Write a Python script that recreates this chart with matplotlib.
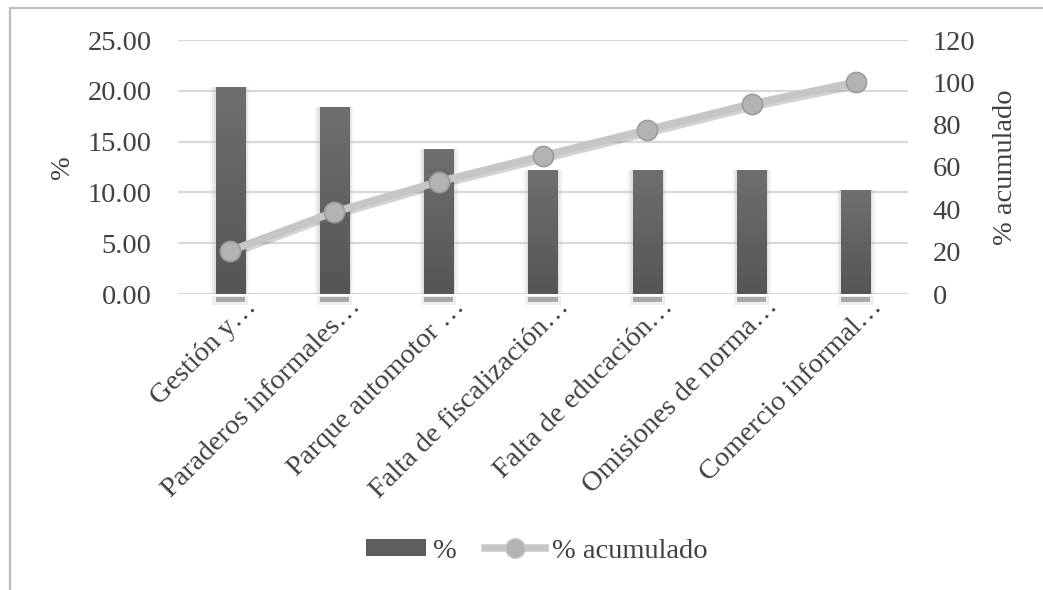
import numpy as np
import matplotlib
matplotlib.use("Agg")
import matplotlib.pyplot as plt
from matplotlib.lines import Line2D
from matplotlib.patches import Patch
from matplotlib.transforms import ScaledTranslation
import matplotlib.patheffects as pe

categories = [
    "Gestión y…",
    "Paraderos informales…",
    "Parque automotor …",
    "Falta de fiscalización…",
    "Falta de educación…",
    "Omisiones de norma…",
    "Comercio informal…",
]
pct = [20.41, 18.37, 14.29, 12.24, 12.24, 12.24, 10.20]
pct_acum = [20.41, 38.78, 53.06, 65.31, 77.55, 89.80, 100.00]
left_ticks = [0, 5, 10, 15, 20, 25]
right_ticks = [0, 20, 40, 60, 80, 100, 120]

TEXT = "#404040"
FONT = "Liberation Serif"
FS = 20.5
FS_X = 20.5
plt.rcParams["font.family"] = [FONT, "DejaVu Serif"]

W, H = 1043, 590
fig = plt.figure(figsize=(W / 100, H / 100), dpi=100)
fig.patch.set_facecolor("white")

ax = fig.add_axes([178 / W, 1 - 294 / H, 730 / W, 254 / H])
x = np.arange(len(categories))
bar_w = 0.28

# soft halo around each bar
for grow, a in [(0.10, 0.10), (0.065, 0.15), (0.035, 0.25)]:
    ax.bar(x, pct, width=bar_w + grow, bottom=0, color="#b8b8b8",
           alpha=a, zorder=2, linewidth=0)

bars = ax.bar(x, pct, width=bar_w, color="#606060", zorder=3, linewidth=0)

# vertical gradient fill for the bars
grad = np.linspace(0, 1, 256).reshape(-1, 1)
cmap = matplotlib.colors.LinearSegmentedColormap.from_list(
    "bargrad", ["#555555", "#6f6f6f"])
for b in bars:
    x0, y0 = b.get_x(), b.get_y()
    im = ax.imshow(grad, extent=[x0, x0 + b.get_width(), y0, y0 + b.get_height()],
                   origin="lower", cmap=cmap, aspect="auto", zorder=4)
    im.set_clip_path(b)

# faint reflection just under the baseline
for xi in x:
    ax.bar(xi, -0.9, width=bar_w + 0.06, bottom=-0.15, color="#d0d0d0", alpha=0.35,
           linewidth=0, clip_on=False, zorder=1)
    ax.bar(xi, -0.55, width=bar_w, bottom=-0.25, color="#8c8c8c", alpha=0.7,
           linewidth=0, clip_on=False, zorder=1)

ax.set_xlim(-0.5, len(categories) - 0.5)
ax.set_ylim(0, 25)
ax.set_yticks(left_ticks)
ax.set_yticklabels([f"{v:.2f}" for v in left_ticks])
ax.yaxis.grid(True, color="#d9d9d9", linewidth=1.6, zorder=0)
ax.set_axisbelow(True)
for s in ax.spines.values():
    s.set_visible(False)
ax.tick_params(axis="both", length=0, labelcolor=TEXT)
ax.tick_params(axis="y", pad=19, labelsize=FS)
ax.tick_params(axis="x", pad=6.5, labelsize=FS_X)

ax.set_xticks(x)
ax.set_xticklabels(categories, rotation=45, ha="right", va="center",
                   rotation_mode="anchor")
shift = ScaledTranslation(22.5 / 100, 0, fig.dpi_scale_trans)
for lab in ax.get_xticklabels():
    lab.set_transform(lab.get_transform() + shift)

ax.set_ylabel("%", fontsize=FS, color=TEXT)
ax.yaxis.set_label_coords(75 / W, 1 - 167 / H, transform=fig.transFigure)

ax2 = ax.twinx()
ax2.set_ylim(0, 120)
ax2.set_yticks(right_ticks)
ax2.set_yticklabels([str(v) for v in right_ticks])
for s in ax2.spines.values():
    s.set_visible(False)
ax2.tick_params(axis="y", length=0, labelsize=FS, labelcolor=TEXT, pad=18)
ax2.set_ylabel("% acumulado", fontsize=FS, color=TEXT, rotation=90)
ax2.yaxis.set_label_coords(993 / W, 1 - 167 / H, transform=fig.transFigure)

ax2.plot(x, pct_acum, color="#c6c6c6", linewidth=5.4, zorder=5,
         solid_capstyle="round",
         path_effects=[pe.SimpleLineShadow(offset=(1.0, -2.0),
                                           shadow_color="#707070",
                                           alpha=0.3),
                       pe.Normal()])
ax2.plot(x, pct_acum, linestyle="none", marker="o", markersize=14.5,
         markerfacecolor="#b3b3b3", markeredgecolor="#9c9c9c",
         markeredgewidth=1.2, zorder=6)

# outer frame: only the left and top edges are visible
fig.add_artist(Line2D([9.5 / W, 9.5 / W, 1.0], [0.0, 1 - 8 / H, 1 - 8 / H],
                      transform=fig.transFigure, color="#bdbdbd", linewidth=1.6))

handles = [
    Patch(facecolor="#5e5e5e", edgecolor="none"),
    Line2D([], [], color="#c6c6c6", linewidth=5.4, marker="o", markersize=14,
           markerfacecolor="#b3b3b3", markeredgecolor="#c6c6c6"),
]
leg = fig.legend(handles, ["%", "% acumulado"], loc="center",
                 bbox_to_anchor=(537 / W, 1 - 551 / H), ncol=2, frameon=False,
                 fontsize=FS, handlelength=2.1, handleheight=0.55,
                 handletextpad=0.25, columnspacing=1.0)
for t in leg.get_texts():
    t.set_color(TEXT)

fig.savefig("out.png", dpi=100, facecolor="white")
